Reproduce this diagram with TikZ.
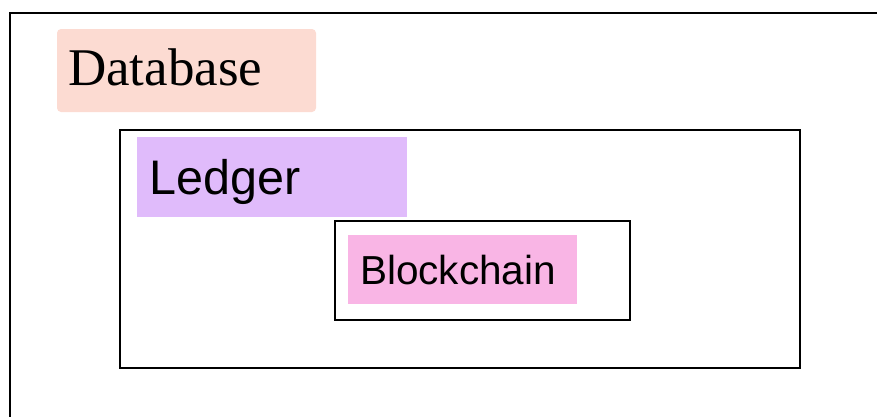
\documentclass[tikz,border=0pt]{standalone}
\usepackage{fontspec}
\setmainfont{Liberation Serif}
\newfontfamily\arialfont{Liberation Sans}
\definecolor{dbfill}{HTML}{FCDBD2}
\definecolor{ledgerfill}{HTML}{E0BBFB}
\definecolor{chainfill}{HTML}{F9B5E5}
\begin{document}
\begin{tikzpicture}[x=1pt,y=-1pt,
  frame/.style={draw=black,line width=2.2pt},
  label/.style={inner sep=0pt,anchor=base west,text=black}]
\useasboundingbox (0,0) rectangle (877,416);
\clip (0,0) rectangle (877,416);
% outer frame (extends beyond picture)
\draw[frame] (10,13) rectangle (900,440);
% Database
\fill[dbfill,rounded corners=4pt] (57,29) rectangle (316,112);
\node[label] (db) at (68,85) {\fontsize{53}{63}\selectfont Database};
% Ledger frame
\draw[frame] (120,130) rectangle (800,368);
\fill[ledgerfill] (137,137) rectangle (407,217);
\node[label] (ledger) at (149,194) {\arialfont\fontsize{48.5}{58}\selectfont Ledger};
% Blockchain frame
\draw[frame] (335,221) rectangle (630,320);
\fill[chainfill] (348,235) rectangle (577,304);
\node[label] (chain) at (360,284) {\arialfont\fontsize{40.5}{48}\selectfont Blockchain};
\end{tikzpicture}
\end{document}
